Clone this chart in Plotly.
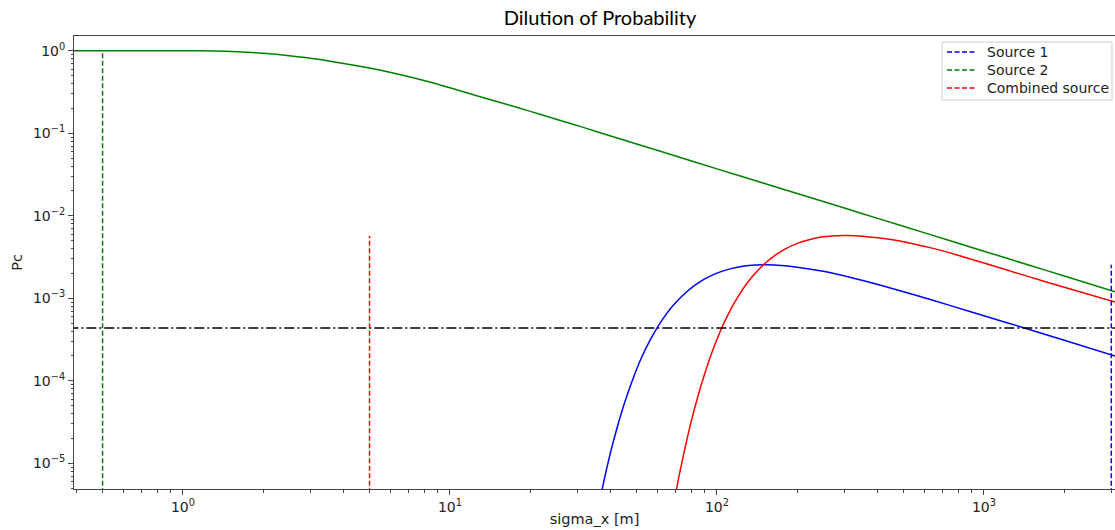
import plotly.graph_objects as go

# ---- data ----
sigma_source1 = [36, 38, 40, 42, 45, 48, 52, 56, 60, 65, 70, 76, 83, 90, 100, 112, 125, 140, 155, 175, 200, 250, 320, 420, 560, 750, 1000, 1400, 2000, 3100]
pc_source1 = [3.0e-6, 6.8e-6, 1.38e-5, 2.5e-5, 5.3e-5, 9.7e-5, 1.86e-4, 3.05e-4, 4.5e-4, 6.6e-4, 8.8e-4, 1.15e-3, 1.45e-3, 1.72e-3, 2.02e-3, 2.27e-3, 2.44e-3, 2.53e-3, 2.55e-3, 2.49e-3, 2.38e-3, 2.12e-3, 1.77e-3, 1.41e-3, 1.08e-3, 8.15e-4, 6.15e-4, 4.42e-4, 3.1e-4, 2.0e-4]

sigma_source2 = [0.3, 0.5, 0.8, 1.0, 1.3, 1.6, 2.0, 2.5, 3.2, 4.0, 5.0, 6.3, 8.0, 10, 12.6, 16, 20, 25, 32, 40, 50, 70, 100, 150, 200, 300, 400, 600, 1000, 1500, 2000, 3100]
pc_source2 = [1.0, 1.0, 1.0, 1.0, 0.99, 0.97, 0.93, 0.87, 0.79, 0.70, 0.615, 0.525, 0.435, 0.355, 0.285, 0.228, 0.184, 0.148, 0.116, 0.0925, 0.074, 0.053, 0.037, 0.0247, 0.0186, 0.0124, 9.3e-3, 6.2e-3, 3.72e-3, 2.48e-3, 1.86e-3, 1.2e-3]

sigma_combined = [68, 72, 76, 80, 85, 90, 96, 104, 112, 120, 130, 140, 152, 166, 180, 200, 225, 250, 280, 310, 350, 400, 500, 640, 800, 1000, 1400, 2000, 3100]
pc_combined = [2.5e-6, 6.8e-6, 1.55e-5, 3.15e-5, 6.6e-5, 1.22e-4, 2.25e-4, 4.3e-4, 7.1e-4, 1.05e-3, 1.54e-3, 2.05e-3, 2.68e-3, 3.36e-3, 3.95e-3, 4.63e-3, 5.2e-3, 5.55e-3, 5.74e-3, 5.77e-3, 5.66e-3, 5.4e-3, 4.85e-3, 4.05e-3, 3.32e-3, 2.67e-3, 1.92e-3, 1.36e-3, 9.0e-4]

legend_names = ["Source 1", "Source 2", "Combined source"]
series_colors = ["#0000ff", "#008000", "#ff0000"]
vline_sigma = [3000, 0.5, 5]          # Source 1, Source 2, Combined
vline_top = [2.55e-3, 1.0, 5.7e-3]
vline_bottom = 1e-6
threshold_pc = 4.35e-4
threshold_span = [0.2, 5000]

x_decades = [0, 1, 2, 3]
y_decades = [0, -1, -2, -3, -4, -5]

W, H = 1115, 530
ML, MR, MT, MB = 74, 0, 36, 41

# ---- figure ----
fig = go.Figure()

curves = [(sigma_source1, pc_source1), (sigma_source2, pc_source2), (sigma_combined, pc_combined)]
for (xs, ys), col in zip(curves, series_colors):
    fig.add_trace(go.Scatter(x=xs, y=ys, mode="lines", showlegend=False, hoverinfo="skip",
                             line=dict(color=col, width=1.5, shape="spline", smoothing=0.6)))

fig.add_trace(go.Scatter(x=threshold_span, y=[threshold_pc, threshold_pc], mode="lines",
                         showlegend=False,
                         line=dict(color="black", width=1.5, dash="10px,3px,2px,3px")))

dash_style = "5px,2.5px"
for name, col, xv, top in zip(legend_names, series_colors, vline_sigma, vline_top):
    fig.add_trace(go.Scatter(x=[xv, xv], y=[vline_bottom, top], mode="lines", name=name,
                             showlegend=False,
                             line=dict(color=col, width=1.5, dash=dash_style)))

# ---- legend drawn in matplotlib style (paper coordinates) ----
pw, ph = W - ML - MR, H - MT - MB
def px(xp):
    return (xp - ML) / pw
def py(yp):
    return (H - MB - yp) / ph

fig.add_shape(type="rect", xref="paper", yref="paper",
              x0=px(942), x1=px(1112), y0=py(100), y1=py(42),
              line=dict(color="#cccccc", width=1), fillcolor="rgba(255,255,255,0.85)", layer="above")
for i, (name, col) in enumerate(zip(legend_names, series_colors)):
    yrow = 52 + 18 * i
    fig.add_shape(type="line", xref="paper", yref="paper",
                  x0=px(947), x1=px(976), y0=py(yrow), y1=py(yrow),
                  line=dict(color=col, width=1.5, dash=dash_style), layer="above")
    fig.add_annotation(xref="paper", yref="paper", x=px(985), y=py(yrow),
                       xanchor="left", yanchor="middle", showarrow=False, text=name,
                       font=dict(family="DejaVu Sans", size=14, color="#222222"))

def sup(k):
    s = str(k).replace("-", "\u2212")
    return "10<sup>" + s + "</sup>"

def minor_vals(decs):
    lo, hi = min(decs) - 1, max(decs) + 1
    return [m * 10 ** k for k in range(lo, hi + 1) for m in range(2, 10)]

axis_font = dict(family="DejaVu Sans", size=14, color="#222222")
line_col = "#444444"

fig.update_xaxes(type="log", range=[-0.408, 3.491],
                 tickvals=[10 ** k for k in x_decades], ticktext=[sup(k) for k in x_decades],
                 ticks="outside", ticklen=5, tickcolor=line_col, tickfont=axis_font,
                 showgrid=False, zeroline=False, showline=True, linecolor=line_col,
                 linewidth=1, mirror=True,
                 minor=dict(tickvals=minor_vals(x_decades), ticks="outside", ticklen=2.5,
                            tickcolor=line_col, showgrid=False),
                 title=dict(text="sigma_x [m]", font=dict(family="DejaVu Sans", size=14.5, color="#222222"), standoff=0))
fig.update_yaxes(type="log", range=[-5.311, 0.178],
                 tickvals=[10 ** k for k in y_decades], ticktext=[sup(k) for k in y_decades],
                 ticks="outside", ticklen=5, tickcolor=line_col, tickfont=axis_font,
                 showgrid=False, zeroline=False, showline=True, linecolor=line_col,
                 linewidth=1, mirror=False,
                 minor=dict(tickvals=minor_vals(y_decades), ticks="outside", ticklen=2.5,
                            tickcolor=line_col, showgrid=False),
                 title=dict(text="Pc", font=dict(family="DejaVu Sans", size=14.5, color="#222222"), standoff=6))

fig.update_layout(
    width=W, height=H,
    margin=dict(l=ML, r=MR, t=MT, b=MB),
    paper_bgcolor="white", plot_bgcolor="white",
    showlegend=False,
    title=dict(text="Dilution of Probability", x=600 / W, xanchor="center",
               y=1 - 18 / H, yanchor="middle",
               font=dict(family="Lato", size=20, color="black")),
)

fig.write_html("out.html")
